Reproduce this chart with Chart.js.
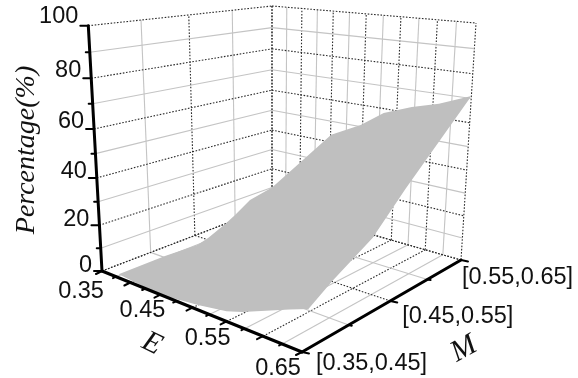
<!DOCTYPE html>
<html><head><meta charset="utf-8">
<style>html,body{margin:0;padding:0;background:#fff}canvas{display:block}</style>
<script src="https://cdn.jsdelivr.net/npm/chart.js@4"></script>
</head><body><canvas id="c" width="578" height="378"></canvas>
<script>
// ---- data ----
const pctTicks = [0,10,20,30,40,50,60,70,80,90,100];
const pctLabels = ['0','20','40','60','80','100'];
const eTicks = [0.35,0.375,0.40,0.425,0.45,0.475,0.50,0.525,0.55,0.575,0.60,0.625,0.65];
const eLabels = ['0.35','0.45','0.55','0.65'];
const mTicks = [0,0.25,0.5,0.75,1];
const mLabels = ['[0.35,0.45]','[0.45,0.55]','[0.55,0.65]'];
const surfaceE = [0.38,0.45,0.51,0.55,0.572,0.634,0.65,0.65,0.65,0.65,0.65,0.608,0.571,0.531,0.497,0.451,0.38,0.35,0.35,0.35,0.35,0.369,0.376,0.372];
const surfaceM = [0,0,0,0,0,0,0.03,0.152,0.376,0.571,1,1,1,1,1,1,1,1,0.849,0.75,0.686,0.518,0.43,0.261];
const surfaceP = [1.5,0,2,4,6,13.5,14.3,20,29,42.6,71,65.8,62.7,58,50.8,43.6,20,10,7.6,2.7,0,0,0,0];

// ---- 3D view: box corners on the page, order (Emin,Mmin) (Emax,Mmin) (Emax,Mmax) (Emin,Mmax) ----
function quad(p){
  const [[x0,y0],[x1,y1],[x2,y2],[x3,y3]]=p;
  const dx1=x1-x2,dx2=x3-x2,sx=x0-x1+x2-x3,dy1=y1-y2,dy2=y3-y2,sy=y0-y1+y2-y3;
  const den=dx1*dy2-dx2*dy1,g=(sx*dy2-dx2*sy)/den,h=(dx1*sy-sx*dy1)/den;
  const a=x1-x0+g*x1,b=x3-x0+h*x3,d=y1-y0+g*y1,e=y3-y0+h*y3;
  return (u,v)=>{const w=g*u+h*v+1;return [(a*u+b*v+x0)/w,(d*u+e*v+y0)/w];};
}
const floorQ=quad([[102,271],[302,352],[461,260],[272,206]]);
const topQ=quad([[88.3,25.7],[305.5,51],[476,23],[272,6]]);
const persp=1.09;
function proj(E,M,P){
  const u=(E-0.35)/0.3,p=P/100,w=p/(persp-(persp-1)*p);
  const f=floorQ(u,M),t=topQ(u,M);
  return {x:f[0]+(t[0]-f[0])*w,y:f[1]+(t[1]-f[1])*w};
}
const E0=eTicks[0],E1=eTicks[eTicks.length-1];
const DOT='#2b2b2b',SOLID='#c4c4c4';
const ds=[];
function line(pts,major,order){
  ds.push({data:pts,showLine:true,pointRadius:0,borderColor:major?DOT:SOLID,borderWidth:1.1,
    borderDash:major?[1.6,1.6]:[],order:order||3,clip:false,fill:false,tension:0});
}
pctTicks.forEach((p,i)=>{const maj=i%2===0;
  line([proj(E0,0,p),proj(E0,1,p)],maj);
  line([proj(E0,1,p),proj(E1,1,p)],maj);
});
mTicks.forEach((m,i)=>{const maj=i%2===0;
  line([proj(E0,m,0),proj(E0,m,100)],maj);
  line([proj(E0,m,0),proj(E1,m,0)],maj);
});
eTicks.forEach((e,i)=>{const maj=i%2===0;
  line([proj(e,1,0),proj(e,1,100)],maj);
  line([proj(e,0,0),proj(e,1,0)],maj);
});
// surface silhouette
ds.push({data:surfaceE.map((e,i)=>proj(e,surfaceM[i],surfaceP[i])),showLine:true,pointRadius:0,borderWidth:0,
  borderColor:'#bfbfbf',backgroundColor:'#bfbfbf',fill:'shape',order:2,clip:false,tension:0});
// axes
function axis(pts,w){ds.push({data:pts,showLine:true,pointRadius:0,borderColor:'#000',borderWidth:w,order:1,clip:false,tension:0,borderCapStyle:'round'});}
function off(pt,dx,dy){return {x:pt.x+dx,y:pt.y+dy};}
axis([proj(E0,0,0),proj(E0,0,100)],3);
axis([proj(E0,0,0),proj(E1,0,0)],3);
axis([proj(E1,0,0),proj(E1,1,0)],3);
pctTicks.forEach((p,i)=>{const a=proj(E0,0,p),l=i%2===0?8:4;axis([a,off(a,-l,0)],2);});
eTicks.forEach((e,i)=>{const a=proj(e,0,0),l=i%2===0?1:0.5;axis([a,off(a,-6*l,3*l)],2);});
mTicks.forEach((m,i)=>{const a=proj(E1,m,0),l=i%2===0?1:0.45;axis([a,off(a,7*l,1.5*l)],2);});

const labels={id:'labels',afterDraw(c){
  const x=c.scales.x,y=c.scales.y,g=c.ctx;
  const sans='23.5px "Liberation Sans"',serif='italic 28px "Liberation Serif"',big='italic 30px "Liberation Serif"';
  g.save();g.fillStyle='#111';g.textBaseline='middle';
  g.font=sans;g.textAlign='right';
  pctLabels.forEach((t,i)=>{const a=proj(E0,0,i*20);
    g.fillText(t,x.getPixelForValue(a.x-10),y.getPixelForValue(a.y-6-3.7*i/5)+1);});
  g.textAlign='center';
  const eOff=[[-21,20],[-18,15],[-19,16],[-24,16]];
  eLabels.forEach((t,i)=>{const a=proj(E0+i*0.1,0,0);
    g.fillText(t,x.getPixelForValue(a.x+eOff[i][0]),y.getPixelForValue(a.y+eOff[i][1])+1);});
  g.textAlign='left';
  const mOff=[[14,11],[12,15],[1,17]];
  mLabels.forEach((t,i)=>{const a=proj(E1,i*0.5,0);
    g.fillText(t,x.getPixelForValue(a.x+mOff[i][0]),y.getPixelForValue(a.y+mOff[i][1])+1);});
  function rot(t,px,py,ang,font){g.save();g.translate(x.getPixelForValue(px),y.getPixelForValue(py));g.rotate(ang);g.font=font;g.textAlign='center';g.textBaseline='middle';g.fillText(t,0,0);g.restore();}
  rot('Percentage(%)',27,150,-Math.PI/2,serif);
  rot('E',152,344,0.45,big);
  rot('M',464,349,-0.5,big);
  g.restore();
}};
new Chart(document.getElementById('c'),{type:'scatter',data:{datasets:ds},plugins:[labels],options:{
  responsive:false,animation:false,events:[],layout:{padding:0},
  plugins:{legend:{display:false},tooltip:{enabled:false},title:{display:false}},
  scales:{x:{type:'linear',min:0,max:578,display:false},y:{type:'linear',min:0,max:378,reverse:true,display:false}}
}});
</script></body></html>
